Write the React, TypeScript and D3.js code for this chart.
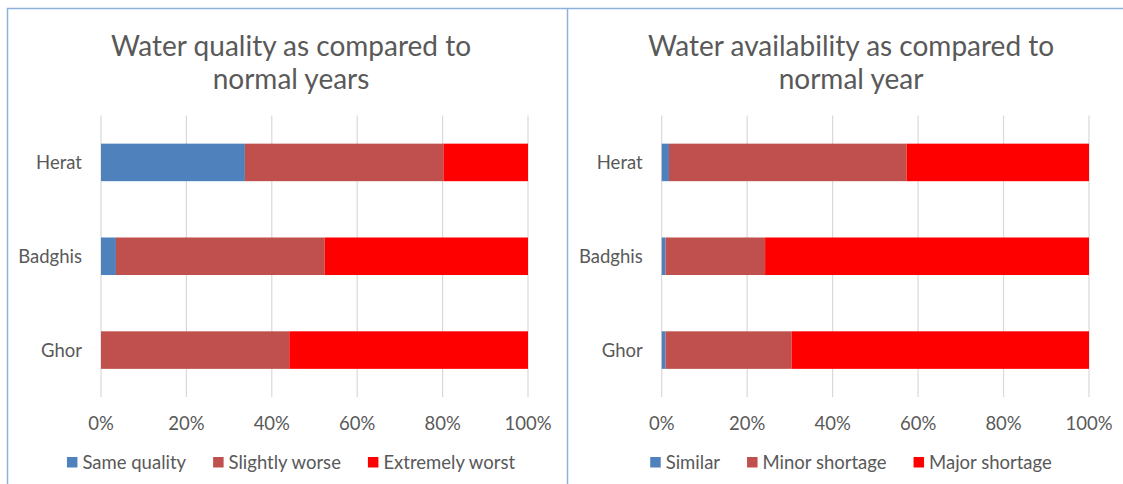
import React, { useEffect, useRef } from "react";
import * as d3 from "d3";

const categories = ["Herat", "Badghis", "Ghor"];
const tickValues = [0, 20, 40, 60, 80, 100];

const qualitySeries = ["Same quality", "Slightly worse", "Extremely worst"];
const qualitySame = [33.7, 3.5, 0];
const qualitySlightly = [46.5, 48.9, 44.1];
const qualityExtreme = [19.8, 47.6, 55.9];

const availSeries = ["Similar", "Minor shortage", "Major shortage"];
const availSimilar = [1.7, 0.9, 0.9];
const availMinor = [55.6, 23.3, 29.5];
const availMajor = [42.7, 75.8, 69.6];

const colors = ["#4F81BD", "#C0504D", "#FF0000"];
const FONT = "Lato, 'Open Sans', sans-serif";
const TEXT = "#595959";

type Panel = {
  title: string[];
  series: string[];
  values: number[][];
  x0: number;
  x1: number;
  center: number;
};

export default function App() {
  const ref = useRef<SVGSVGElement>(null);

  useEffect(() => {
    const svg = d3.select(ref.current);
    svg.selectAll("*").remove();

    svg.append("rect").attr("x", 0).attr("y", 0).attr("width", 1123).attr("height", 484).attr("fill", "#fff");

    // borders
    svg.append("path")
      .attr("d", "M7.5,484 V8.5 H1123")
      .attr("fill", "none").attr("stroke", "#8EB0DC").attr("stroke-width", 1.5);
    svg.append("line")
      .attr("x1", 567.5).attr("x2", 567.5).attr("y1", 8.5).attr("y2", 484)
      .attr("stroke", "#8EB0DC").attr("stroke-width", 1.5);

    const panels: Panel[] = [
      {
        title: ["Water quality as compared to", "normal years"],
        series: qualitySeries,
        values: [qualitySame, qualitySlightly, qualityExtreme],
        x0: 101, x1: 528, center: 291,
      },
      {
        title: ["Water availability as compared to", "normal year"],
        series: availSeries,
        values: [availSimilar, availMinor, availMajor],
        x0: 661.7, x1: 1089, center: 851,
      },
    ];

    const y = d3.scaleBand<string>().domain(categories).range([115.5, 397]).paddingInner(0.6).paddingOuter(0.3);

    panels.forEach((p) => {
      const g = svg.append("g");
      const x = d3.scaleLinear().domain([0, 100]).range([p.x0, p.x1]);

      // title
      p.title.forEach((t, i) => {
        g.append("text")
          .attr("x", p.center).attr("y", 56 + i * 33)
          .attr("text-anchor", "middle")
          .attr("font-family", FONT).attr("font-size", 28)
          .attr("fill", TEXT).text(t);
      });

      // gridlines
      g.selectAll(".grid").data(tickValues).join("line")
        .attr("x1", (d) => x(d)).attr("x2", (d) => x(d))
        .attr("y1", 115.5).attr("y2", 397)
        .attr("stroke", "#D9D9D9").attr("stroke-width", 1.2);

      // tick labels
      g.selectAll(".tick").data(tickValues).join("text")
        .attr("x", (d) => x(d)).attr("y", 424).attr("dy", "0.35em")
        .attr("text-anchor", "middle")
        .attr("font-family", FONT).attr("font-size", 18.5)
        .attr("fill", TEXT).text((d) => d + "%");

      // category labels
      g.selectAll(".cat").data(categories).join("text")
        .attr("x", p.x0 - 19).attr("y", (d) => (y(d) as number) + y.bandwidth() / 2).attr("dy", "0.35em")
        .attr("text-anchor", "end")
        .attr("font-family", FONT).attr("font-size", 18.5)
        .attr("fill", TEXT).text((d) => d);

      // stacked bars
      const rows = categories.map((c, i) => {
        const r: any = { cat: c };
        p.series.forEach((s, k) => (r[s] = p.values[k][i]));
        return r;
      });
      const stacked = d3.stack<any>().keys(p.series)(rows);
      stacked.forEach((layer, k) => {
        g.selectAll(null).data(layer).join("rect")
          .attr("x", (d) => x(d[0]))
          .attr("width", (d) => Math.max(0, x(d[1]) - x(d[0])))
          .attr("y", (d) => y(d.data.cat) as number)
          .attr("height", y.bandwidth())
          .attr("fill", colors[k]);
      });

      // legend
      const lg = g.append("g");
      let cx = 0;
      p.series.forEach((s, k) => {
        lg.append("rect").attr("x", cx).attr("y", 457).attr("width", 10.5).attr("height", 10.5).attr("fill", colors[k]);
        const t = lg.append("text")
          .attr("x", cx + 15.5).attr("y", 462.5).attr("dy", "0.35em")
          .attr("font-family", FONT).attr("font-size", 18.5)
          .attr("fill", TEXT).text(s);
        const w = (t.node() as SVGTextElement).getComputedTextLength();
        cx += 15.5 + w + (k < p.series.length - 1 ? 27 : 0);
      });
      lg.attr("transform", `translate(${p.center - cx / 2},0)`);
    });
  }, []);

  return (
    <div style={{ position: "fixed", left: 0, top: 0 }}>
      <svg ref={ref} width={1123} height={484} style={{ display: "block" }} />
    </div>
  );
}
